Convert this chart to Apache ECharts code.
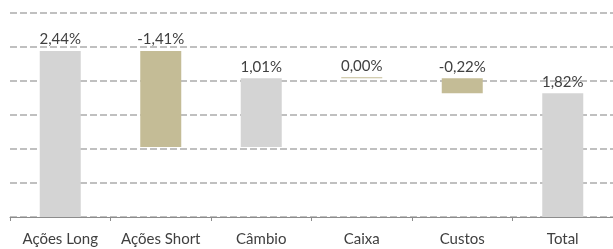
<!DOCTYPE html>
<html>
<head>
<meta charset="utf-8">
<script src="https://cdn.jsdelivr.net/npm/echarts@6/dist/echarts.min.js"></script>
<style>
html,body{margin:0;padding:0;background:#fff;}
#chart{width:613px;height:249px;}
</style>
</head>
<body>
<div id="chart"></div>
<script>
const categories = ['Ações Long', 'Ações Short', 'Câmbio', 'Caixa', 'Custos', 'Total'];
const values = [2.44, -1.41, 1.01, 0.00, -0.22, 1.82];
const isTotal = [false, false, false, false, false, true];
const yTicks = [0, 0.5, 1, 1.5, 2, 2.5, 3];

const GREY = '#d4d4d4';
const TAN = '#c4bc96';

const baseData = [];
const barData = [];
let running = 0;
values.forEach((v, i) => {
  let base, h;
  if (isTotal[i]) { base = 0; h = v; }
  else if (v >= 0) { base = running; h = v; running += v; }
  else { base = running + v; h = -v; running += v; }
  baseData.push(+base.toFixed(4));
  const color = (isTotal[i] || v > 0) ? GREY : TAN;
  barData.push({ value: +h.toFixed(4), itemStyle: { color: color } });
});

const fmt = v => v.toFixed(2).replace('.', ',') + '%';

const chart = echarts.init(document.getElementById('chart'), null, { renderer: 'canvas' });
chart.setOption({
  animation: false,
  backgroundColor: '#fff',
  grid: { left: 10, right: -2, top: 13, bottom: 32, containLabel: false },
  xAxis: {
    type: 'category',
    data: categories,
    axisLine: { show: true, lineStyle: { color: '#8c8c8c', width: 1 } },
    axisTick: { show: true, length: 4, lineStyle: { color: '#8c8c8c' } },
    axisLabel: { color: '#404040', fontSize: 15, fontFamily: 'Lato', margin: 15, interval: 0 },
    splitLine: { show: false }
  },
  yAxis: {
    type: 'value',
    min: yTicks[0],
    max: yTicks[yTicks.length - 1],
    interval: yTicks[1] - yTicks[0],
    axisLine: { show: false },
    axisTick: { show: false },
    axisLabel: { show: false },
    splitLine: { show: true, lineStyle: { color: '#c0c0c0', width: 2, type: [7, 3] } }
  },
  series: [
    {
      type: 'bar',
      stack: 'w',
      data: baseData,
      itemStyle: { color: 'transparent' },
      barWidth: 41,
      silent: true
    },
    {
      type: 'bar',
      stack: 'w',
      data: barData,
      barWidth: 41,
      barMinHeight: 1,
      label: {
        show: true,
        position: 'top',
        distance: 4,
        color: '#404040',
        fontSize: 15,
        fontFamily: 'Lato',
        formatter: p => fmt(values[p.dataIndex])
      }
    }
  ]
});
</script>
</body>
</html>
